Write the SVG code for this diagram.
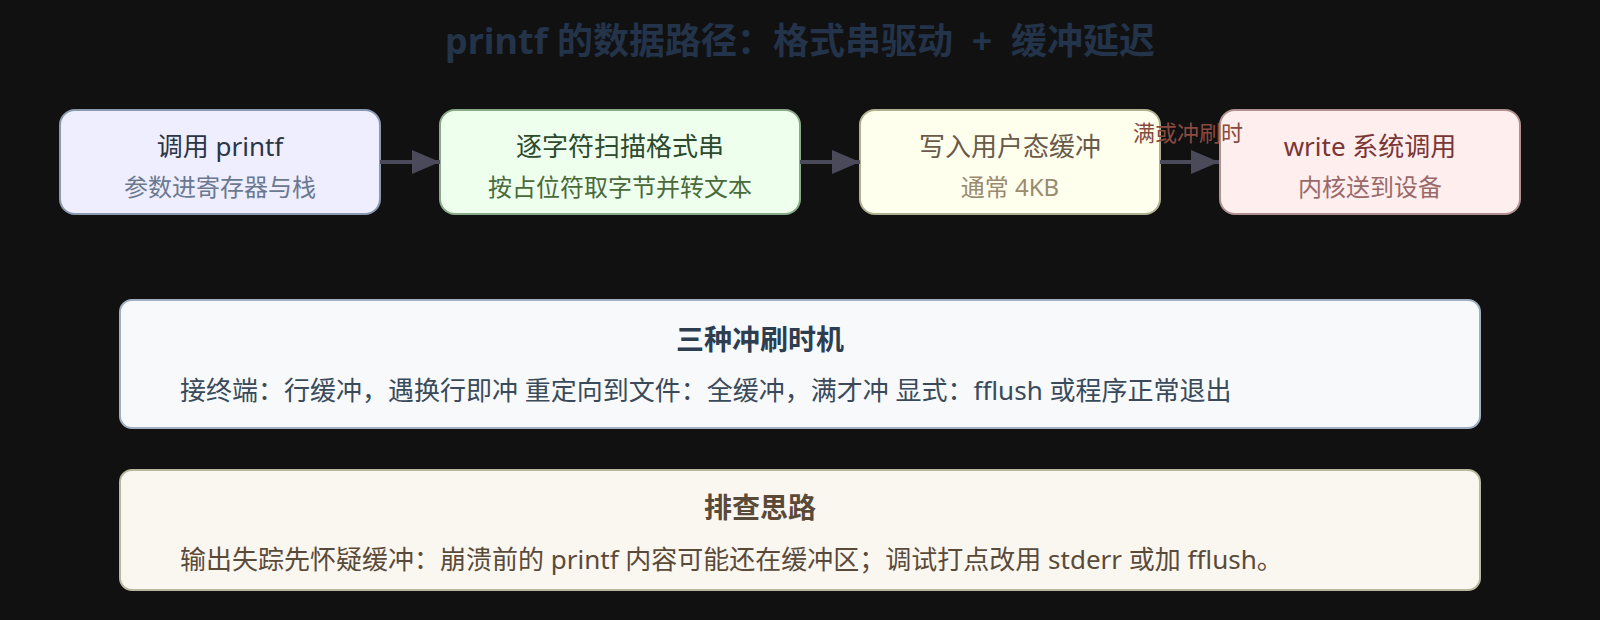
<svg xmlns="http://www.w3.org/2000/svg" width="1600" height="620" viewBox="0 0 1600 620">
<defs>
<marker id="arr" markerWidth="7" markerHeight="6" refX="7" refY="3" orient="auto" markerUnits="strokeWidth">
<path d="M0,0 L7,3 L0,6 Z" fill="#4a4a5a"/>
</marker>
<style>
text{font-family:"Noto Sans","Noto Sans CJK SC",sans-serif}
.node{stroke-width:2}
.main{font-size:26px;text-anchor:middle}
.sub{font-size:24px;text-anchor:middle}
.conn{stroke:#4a4a5a;stroke-width:4;fill:none;marker-end:url(#arr)}
.lbl{font-size:22px;fill:#8a4a40;text-anchor:middle}
.btitle{font-size:28px;font-weight:bold;text-anchor:middle}
.body{font-size:26px}
</style>
</defs>
<rect width="1600" height="620" fill="#111111"/>
<text x="800" y="54" font-size="36" font-weight="bold" fill="#23334a" text-anchor="middle" xml:space="preserve">printf 的数据路径：格式串驱动  +  缓冲延迟</text>
<g id="n1">
<rect class="node" x="60" y="110" width="320" height="104" rx="15" fill="#eeeeff" stroke="#8a98b0"/>
<text class="main" x="220" y="156" fill="#2a3545">调用 printf</text>
<text class="sub" x="220" y="196" fill="#6a7890">参数进寄存器与栈</text>
</g>
<g id="n2">
<rect class="node" x="440" y="110" width="360" height="104" rx="15" fill="#eeffee" stroke="#88aa88"/>
<text class="main" x="620" y="156" fill="#2d4a2d">逐字符扫描格式串</text>
<text class="sub" x="620" y="196" fill="#4a6a3a">按占位符取字节并转文本</text>
</g>
<g id="n3">
<rect class="node" x="860" y="110" width="300" height="104" rx="15" fill="#ffffee" stroke="#b0b090"/>
<text class="main" x="1010" y="156" fill="#6a5a4a">写入用户态缓冲</text>
<text class="sub" x="1010" y="196" fill="#9a8a70">通常 4KB</text>
</g>
<g id="n4">
<rect class="node" x="1220" y="110" width="300" height="104" rx="15" fill="#ffeeee" stroke="#b09090"/>
<text class="main" x="1370" y="156" fill="#7a3535">write 系统调用</text>
<text class="sub" x="1370" y="196" fill="#9a6a6a">内核送到设备</text>
</g>
<g id="flush">
<rect class="node" x="120" y="300" width="1360" height="128" rx="12" fill="#f7f9fb" stroke="#a0b0c4"/>
<text class="btitle" x="760" y="350" fill="#2c3e50">三种冲刷时机</text>
<text class="body" x="180" y="400" fill="#3a4a5a">接终端：行缓冲，遇换行即冲 重定向到文件：全缓冲，满才冲 显式：fflush 或程序正常退出</text>
</g>
<g id="debug">
<rect class="node" x="120" y="470" width="1360" height="120" rx="12" fill="#faf7f0" stroke="#b8b8a0"/>
<text class="btitle" x="760" y="518" fill="#5a4a3a">排查思路</text>
<text class="body" x="180" y="569" fill="#5a4a3a">输出失踪先怀疑缓冲：崩溃前的 printf 内容可能还在缓冲区；调试打点改用 stderr 或加 fflush。</text>
</g>
<g id="connectors">
<line class="conn" x1="380" y1="162" x2="440" y2="162"/>
<line class="conn" x1="800" y1="162" x2="860" y2="162"/>
<line class="conn" x1="1160" y1="162" x2="1219" y2="162"/>
<text class="lbl" x="1188" y="141">满或冲刷时</text>
</g>
</svg>
